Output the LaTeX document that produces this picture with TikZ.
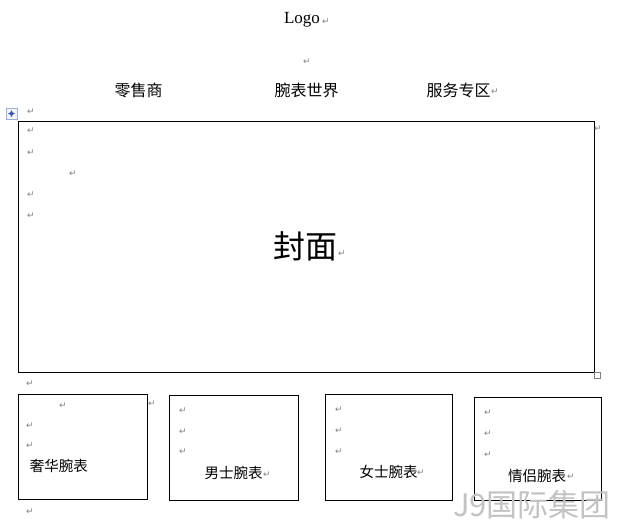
\documentclass[tikz,border=0pt]{standalone}
\usepackage{fontspec}
\setmainfont{Liberation Serif}
\newfontfamily\cjk{Noto Sans CJK SC}
\newfontfamily\symf{DejaVu Sans}
\usetikzlibrary{arrows}
\definecolor{markgray}{RGB}{128,128,128}
\definecolor{wmgray}{RGB}{195,195,195}
\definecolor{handleblue}{RGB}{60,90,170}

\tikzset{
  retmark/.style={text=markgray, font=\symf\fontsize{9}{9}\selectfont, inner sep=0pt},
  navtext/.style={font=\cjk\fontsize{16}{16}\selectfont, inner sep=0pt},
  boxtext/.style={font=\cjk\fontsize{14.5}{14.5}\selectfont, inner sep=0pt},
  framebox/.style={draw, line width=0.8pt, inner sep=0pt}
}

\begin{document}
\begin{tikzpicture}[x=1pt,y=-1pt]
\useasboundingbox (0,0) rectangle (627,530);

% Logo and menu
\node[inner sep=0pt, font=\fontsize{17}{17}\selectfont] (logo) at (302,20) {Logo};
\node[retmark] (mlogo) at (326,22) {↵};
\node[retmark] (mgap) at (307,62) {↵};
\node[navtext] (retail) at (138.5,90) {零售商};
\node[navtext] (world) at (306.5,90) {腕表世界};
\node[navtext] (service) at (458.5,90) {服务专区};
\node[retmark] (mservice) at (495,92) {↵};

% Table handle
\draw[handleblue!50, fill=blue!4] (6,108) rectangle (17,119);
\draw[handleblue, line width=0.5pt, <->, >=stealth] (8,113.5) -- (15,113.5);
\draw[handleblue, line width=0.5pt, <->, >=stealth] (11.5,110) -- (11.5,117);
\node[retmark] (mtop) at (31,112) {↵};

% Cover
\node[framebox, minimum width=576, minimum height=251] (cover) at (306,246.5) {};
\node[inner sep=0pt, font=\cjk\fontsize{32}{32}\selectfont] (covertxt) at (305.5,246) {封面};
\node[retmark] (mcover) at (342,254) {↵};
\node[retmark] (mc1) at (31,131) {↵};
\node[retmark] (mc2) at (31,153) {↵};
\node[retmark] (mc3) at (73,174) {↵};
\node[retmark] (mc4) at (31,195) {↵};
\node[retmark] (mc5) at (31,216) {↵};
\node[retmark] (mcright) at (598,129) {↵};
\draw[markgray, line width=0.5pt] (594,372) rectangle (600,378);
\node[retmark] (mmid) at (30,384) {↵};

% Luxury
\node[framebox, minimum width=129, minimum height=105] (lux) at (82.5,446.5) {};
\node[boxtext] (luxtxt) at (59,466) {奢华腕表};
\node[retmark] (ml1) at (63,406) {↵};
\node[retmark] (ml2) at (30,426) {↵};
\node[retmark] (ml3) at (30,446) {↵};
\node[retmark] (mlout) at (152,404) {↵};

% Men
\node[framebox, minimum width=129, minimum height=105] (men) at (233.5,447.5) {};
\node[boxtext] (mentxt) at (233.5,473) {男士腕表};
\node[retmark] (mmen) at (267,475) {↵};
\node[retmark] (mm1) at (183,411) {↵};
\node[retmark] (mm2) at (183,432) {↵};
\node[retmark] (mm3) at (183,452) {↵};

% Women
\node[framebox, minimum width=127, minimum height=106] (women) at (388.5,447) {};
\node[boxtext] (womentxt) at (388.5,472) {女士腕表};
\node[retmark] (mwomen) at (421,473) {↵};
\node[retmark] (mw1) at (339,410) {↵};
\node[retmark] (mw2) at (339,431) {↵};
\node[retmark] (mw3) at (339,452) {↵};

% Couples
\node[framebox, minimum width=127, minimum height=103] (couple) at (537.5,448.5) {};
\node[boxtext] (coupletxt) at (537,476) {情侣腕表};
\node[retmark] (mcouple) at (571,477) {↵};
\node[retmark] (mp1) at (488,413) {↵};
\node[retmark] (mp2) at (488,434) {↵};
\node[retmark] (mp3) at (488,455) {↵};

% End and watermark
\node[retmark] (mend) at (30,512) {↵};
\node[inner sep=0pt, text=wmgray, font=\cjk\fontsize{31}{31}\selectfont] (wmark) at (532,505) {J9国际集团};
\end{tikzpicture}
\end{document}
